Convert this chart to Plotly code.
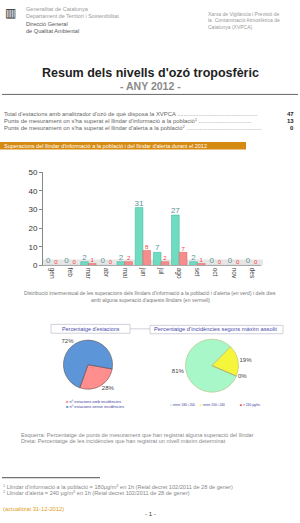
import plotly.graph_objects as go

W, H = 300, 523
FONT = "Liberation Sans, Arial, sans-serif"

# ---------------- data ----------------
months = ["gen", "feb", "mar", "abr", "mai", "jun", "jul", "ago", "set", "oct", "nov", "des"]
superacions = [0, 0, 2, 0, 2, 31, 7, 27, 2, 0, 0, 0]      # green: superacions
dies = [0, 0, 1, 0, 2, 8, 2, 7, 1, 0, 0, 0]               # red: dies amb superació

summary_labels = [
    "Total d'estacions amb analitzador d'ozó de què disposa la XVPCA",
    "Punts de mesurament on s'ha superat el llindar d'informació a la població<sup>1</sup>",
    "Punts de mesurament on s'ha superat el llindar d'alerta a la població<sup>2</sup>",
]
summary_values = [47, 13, 0]

est_labels = ["nº estacions amb incidències", "nº estacions sense incidències"]
est_values = [13, 34]
est_colors = ["#ff8e8e", "#5c96d8"]

inc_labels = ["entre 180 i 200", "entre 200 i 240", "> 240 µg/m³"]
inc_values = [81, 19, 0]
inc_colors = ["#a8f7c8", "#f5f53c", "#e03a2a"]

yticks = [0, 10, 20, 30, 40, 50]


def px_x(x):
    return x / W


def px_y(y):
    return 1 - y / H


fig = go.Figure()

# ---------------- bar chart ----------------
fig.add_trace(go.Bar(
    x=months, y=superacions, name="superacions", offsetgroup="g",
    marker=dict(color="#6fdcc0", line=dict(color="#3fb0a0", width=0.5)),
    showlegend=False,
))
fig.add_trace(go.Bar(
    x=months, y=dies, name="dies", offsetgroup="r",
    marker=dict(color="#f78c8c", line=dict(color="#d86060", width=0.5)),
    showlegend=False,
))
# value labels
fig.add_trace(go.Scatter(
    x=months, y=superacions, mode="text", offsetgroup="g",
    text=[str(v) for v in superacions], textposition="top center",
    textfont=dict(size=8, color="#5a9494", family=FONT),
    cliponaxis=False, showlegend=False, hoverinfo="skip",
))
fig.add_trace(go.Scatter(
    x=months, y=dies, mode="text", offsetgroup="r",
    text=[str(v) for v in dies], textposition="top center",
    textfont=dict(size=6, color="#ff3a3a", family=FONT),
    cliponaxis=False, showlegend=False, hoverinfo="skip",
))

# ---------------- pies ----------------
fig.add_trace(go.Pie(
    labels=est_labels, values=est_values, sort=False, direction="clockwise",
    rotation=100, marker=dict(colors=est_colors, line=dict(color="#5a3a3a", width=0.5)),
    textinfo="percent", texttemplate="%{percent:.0%}", textposition="outside",
    textfont=dict(size=6, color="#444", family=FONT),
    domain=dict(x=[px_x(63), px_x(113)], y=[px_y(392), px_y(342)]),
    showlegend=False, hoverinfo="label+percent",
))
fig.add_trace(go.Pie(
    labels=inc_labels, values=inc_values, sort=False, direction="clockwise",
    rotation=113, marker=dict(colors=inc_colors, line=dict(color="#b0b070", width=0.5)),
    textinfo="percent", texttemplate="%{percent:.0%}", textposition="outside",
    textfont=dict(size=6, color="#444", family=FONT),
    domain=dict(x=[px_x(185), px_x(239)], y=[px_y(395), px_y(341)]),
    showlegend=False, hoverinfo="label+percent",
))

ann = []


def text(t, x, y, size, color="#888", anchor="left", bold=False):
    if bold:
        t = "<b>" + t + "</b>"
    ann.append(dict(text=t, x=px_x(x), y=px_y(y), xref="paper", yref="paper",
                    xanchor=anchor, yanchor="middle", showarrow=False,
                    font=dict(size=size, color=color, family=FONT)))


# header
text("▥", 3, 9, 12, "#222")
text("Generalitat de Catalunya", 24, 5.5, 5.6, "#9a9a9a")
text("Departament de Territori i Sostenibilitat", 24, 12.5, 5.4, "#9a9a9a")
text("Direcció General", 24, 20, 5.6, "#555")
text("de Qualitat Ambiental", 24, 27.5, 5.6, "#555")
text("Xarxa de Vigilància i Previsió de", 206, 10, 5, "#9a9a9a")
text("la  Contaminació Atmosfèrica de", 206, 16.5, 5, "#9a9a9a")
text("Catalunya (XVPCA)", 206, 23, 5, "#9a9a9a")

# titles
text("Resum dels nivells d'ozó troposfèric", 150, 70, 12.5, "#222", "center", True)
text("- ANY 2012 -", 150, 83, 10.5, "#8a8a8a", "center", True)

# summary lines
dots = [49, 32, 46]
for i, (lab, val) in enumerate(zip(summary_labels, summary_values)):
    y = 112 + i * 7
    text(lab + " " + "." * dots[i], 2, y, 5.9, "#666")
    text(str(val), 296, y, 6, "#222", "right", True)

# orange section header
text("Superacions del llindar d'informació a la població i del llindar d'alerta durant el 2012",
     2, 144.5, 5.5, "#ffffff")

# caption
text("Distribució intermensual de les superacions dels llindars d'informació a la població i d'alerta (en verd) i dels dies",
     150, 294.5, 5.1, "#777", "center")
text("amb alguna superació d'aquests llindars (en vermell)", 150, 301.5, 5.1, "#777", "center")

# pie titles
text("Percentatge d'estacions", 90.5, 330.5, 5.4, "#4a4aa8", "center")
text("Percentatge d'incidències segons màxim assolit", 152, 331, 5.8, "#4a4aa8", "left")

# pie legends
for i, (lab, col) in enumerate(zip(est_labels, est_colors)):
    text(f"<span style='color:{col}'>■</span> {lab}", 64, 404.5 + i * 5, 4, "#4040a0")
xs = [168, 198, 238]
for lab, col, x in zip(inc_labels, inc_colors, xs):
    text(f"<span style='color:{col}'>■</span> {lab}", x, 408.5, 3.3, "#4040a0")

# bottom notes
text("Esquerra: Percentatge de punts de mesurament que han registrat alguna superació del llindar", 19, 439, 5.6, "#888")
text("Dreta: Percentatge de les incidències que han registrat un nivell màxim determinat", 19, 444.5, 5.6, "#888")
text("<sup>1</sup> Llindar d'informació a la població = 180µg/m<sup>3</sup> en 1h (Reial decret 102/2011 de 28 de gener)",
     1, 491, 5.6, "#888")
text("<sup>2</sup> Llindar d'alerta = 240 µg/m<sup>3</sup> en 1h (Reial decret 102/2011 de 28 de gener)",
     1, 497, 5.6, "#888")
text("(actualitzat 31-12-2012)", 1, 514, 5.8, "#e0a020")
text("- 1 -", 150, 519, 6, "#333", "center")

shapes = [
    dict(type="line", xref="paper", yref="paper", x0=px_x(2), x1=px_x(298),
         y0=px_y(92), y1=px_y(92), line=dict(color="#666", width=1)),
    dict(type="rect", xref="paper", yref="paper", x0=0, x1=px_x(246),
         y0=px_y(148), y1=px_y(140.5), fillcolor="#d58a12", line=dict(width=0), layer="below"),
    dict(type="rect", xref="paper", yref="paper", x0=px_x(51), x1=px_x(130),
         y0=px_y(335), y1=px_y(326), fillcolor="#ffffff", line=dict(color="#c4c4d4", width=0.8)),
    dict(type="line", xref="paper", yref="paper", x0=px_x(130), x1=px_x(150),
         y0=px_y(330.5), y1=px_y(330.5), line=dict(color="#c4c4d4", width=0.8)),
    dict(type="rect", xref="paper", yref="paper", x0=px_x(150), x1=px_x(283),
         y0=px_y(335.5), y1=px_y(327), fillcolor="#ffffff", line=dict(color="#c4c4d4", width=0.8)),
    dict(type="line", xref="paper", yref="paper", x0=px_x(2), x1=px_x(100),
         y0=px_y(482), y1=px_y(482), line=dict(color="#222", width=0.8)),
    # grey floor of the 3D bar chart
    dict(type="rect", xref="paper", yref="paper", x0=px_x(43), x1=px_x(263),
         y0=px_y(266), y1=px_y(260), fillcolor="#e6e6e6", line=dict(width=0), layer="below"),
]

fig.update_layout(
    width=W, height=H, margin=dict(l=0, r=0, t=0, b=0),
    paper_bgcolor="white", plot_bgcolor="rgba(0,0,0,0)",
    barmode="group", bargap=0.15, bargroupgap=0.0,
    scattermode="group", scattergap=0.15,
    font=dict(family=FONT),
    xaxis=dict(domain=[px_x(43), px_x(261)], showgrid=False, showline=True,
               linecolor="#aaa", linewidth=1, tickangle=90,
               tickfont=dict(size=6.5, color="#444"), ticks=""),
    yaxis=dict(domain=[px_y(266), px_y(171)], range=[0, 50], tickvals=yticks,
               showgrid=False, showline=True, linecolor="#888", linewidth=1,
               ticks="outside", ticklen=3, tickcolor="#888",
               tickfont=dict(size=8, color="#333"), zeroline=False),
    annotations=ann, shapes=shapes,
)

fig.write_html("out.html")
